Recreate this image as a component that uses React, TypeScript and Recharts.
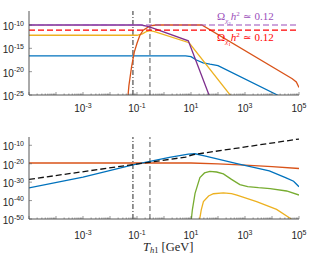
import React from 'react';
import { LineChart, Line, XAxis, YAxis, ReferenceLine } from 'recharts';

// all values are log10 of what the figure shows (x = T_h1 in GeV)
// top panel
const topPurpleX = [-5, -0.85, -0.6, -0.3, 0.9, 1.8];
const topPurpleY = [-10, -10, -10.3, -10.9, -13.4, -27];
const topYellowX = [-5, -1.0, -0.8, -0.65, -0.52, -0.35, 0.93, 2.6];
const topYellowY = [-12.2, -12.2, -11.9, -11.4, -11.2, -11.4, -13.8, -26.1];
const topOrangeX = [-1.36, -1.3, -1.2, -1.1, -1.0, -0.9, -0.77, -0.52, -0.3, 1.4, 4.75, 4.9, 5];
const topOrangeY = [-27, -23, -18.9, -15.8, -13.9, -12.3, -11.1, -10.2, -10, -10, -21.5, -22.2, -23.4];
const topBlueX = [-5, 0.8, 1.0, 1.2, 1.45, 1.7, 2.0, 4.2, 4.6];
const topBlueY = [-16.6, -16.6, -16.8, -17.5, -18.1, -18.4, -18.7, -25, -26.2];
const relicPurple = -10;
const relicRed = -11.1;

// bottom panel
const botOrangeX = [-5, 1, 2, 3, 4, 5];
const botOrangeY = [-19.6, -19.6, -20.1, -20.8, -21.6, -22.6];
const botBlueX = [-5, -3, -1.15, 0.2, 0.9, 1.15, 1.5, 2.7, 3.9, 4.5, 4.8, 5];
const botBlueY = [-33.1, -27.3, -20.6, -16.6, -14.8, -14.6, -15.8, -19.9, -23.9, -27.5, -29.5, -32.5];
const botDashX = [-5, 0.8, 1.1, 5];
const botDashY = [-28.5, -16.4, -15.0, -6.6];
const botGreenX = [1.0, 1.05, 1.15, 1.33, 1.5, 1.7, 1.95, 2.2, 2.5, 2.81, 3.1, 3.5, 3.93, 4.54, 5];
const botGreenY = [-52, -45, -36.1, -27.5, -25, -24.2, -24.5, -25.5, -28.5, -31.3, -32.4, -33, -33.5, -34.8, -37];
const botYellowX = [1.3, 1.38, 1.46, 1.65, 1.83, 2.2, 2.5, 2.7, 3.43, 4.17, 4.67, 4.75];
const botYellowY = [-52, -45, -40.6, -37.5, -36.3, -35.8, -36.2, -37, -40.6, -44.8, -49.6, -50.5];

// vertical markers
const vDashDot = -1.15;
const vDashed = -0.52;

// axes
const xMajorExp = [-5, -4, -3, -2, -1, 0, 1, 2, 3, 4, 5];
const xLabelExp = [-3, -1, 1, 3, 5];
const topYExp = [-25, -20, -15, -10];
const botYExp = [-50, -40, -30, -20, -10];

const pts = (xs: number[], ys: number[]) => xs.map((x, i) => ({ x: 10 ** x, y: 10 ** ys[i] }));

const xTicks: number[] = [];
xMajorExp.forEach((e) => {
  xTicks.push(10 ** e);
  if (e < 5) for (let m = 2; m <= 9; m++) xTicks.push(m * 10 ** e);
});

const AX = '#555';
const TXT = '#262626';

const isMajor = (v: number) => {
  const l = Math.log10(v);
  return Math.abs(l - Math.round(l)) < 1e-6;
};

const Pow = ({ e }: { e: number }) => (
  <>
    <tspan>10</tspan>
    <tspan dy={-4.5} fontSize={7}>{e}</tspan>
  </>
);

const BottomTick = (props: any) => {
  const { x, y, payload, gap } = props;
  const v = payload.value;
  const major = isMajor(v);
  const e = Math.round(Math.log10(v));
  return (
    <g>
      <line x1={x} y1={y} x2={x} y2={y - (major ? 3 : 1.5)} stroke={AX} strokeWidth={0.6} />
      {major && xLabelExp.includes(e) && (
        <text x={x} y={y + gap} textAnchor="middle" fontSize={10} fill={TXT} fontFamily="Liberation Sans, Arial">
          <Pow e={e} />
        </text>
      )}
    </g>
  );
};

const TopTick = (props: any) => {
  const { x, y, payload } = props;
  const major = isMajor(payload.value);
  return <line x1={x} y1={y} x2={x} y2={y + (major ? 3 : 1.5)} stroke={AX} strokeWidth={0.6} />;
};

const LeftTick = (props: any) => {
  const { x, y, payload } = props;
  const e = Math.round(Math.log10(payload.value));
  return (
    <g>
      <line x1={x} y1={y} x2={x + 3} y2={y} stroke={AX} strokeWidth={0.6} />
      <text x={x - 5} y={y + 5} textAnchor="end" fontSize={10} fill={TXT} fontFamily="Liberation Sans, Arial">
        <Pow e={e} />
      </text>
    </g>
  );
};

const RightTick = (props: any) => {
  const { x, y } = props;
  return <line x1={x} y1={y} x2={x - 3} y2={y} stroke={AX} strokeWidth={0.6} />;
};

const Frame = ({ yExp, yDomain, gap, xh }: { yExp: number[]; yDomain: [number, number]; gap: number; xh: number }) => {
  const yTicks = yExp.map((e) => 10 ** e);
  return [
    <XAxis key="xb" dataKey="x" type="number" scale="log" domain={[1e-5, 1e5]} allowDataOverflow ticks={xTicks} interval={0}
      tickSize={0} tickMargin={0} tickLine={false} axisLine={{ stroke: AX }} height={xh}
      tick={(p: any) => <BottomTick {...p} gap={gap} />} />,
    <XAxis key="xt" xAxisId="t" orientation="top" dataKey="x" type="number" scale="log" domain={[1e-5, 1e5]} allowDataOverflow
      ticks={xTicks} interval={0} tickSize={0} tickMargin={0} tickLine={false} axisLine={{ stroke: AX }} height={0}
      tick={(p: any) => <TopTick {...p} />} />,
    <YAxis key="yl" dataKey="y" type="number" scale="log" domain={yDomain} allowDataOverflow ticks={yTicks} interval={0}
      tickSize={0} tickMargin={0} tickLine={false} axisLine={{ stroke: AX }} width={29}
      tick={(p: any) => <LeftTick {...p} />} />,
    <YAxis key="yr" yAxisId="r" orientation="right" dataKey="y" type="number" scale="log" domain={yDomain} allowDataOverflow
      ticks={yTicks} interval={0} tickSize={0} tickMargin={0} tickLine={false} axisLine={{ stroke: AX }} width={0}
      tick={(p: any) => <RightTick {...p} />} />,
  ];
};

const markers = [
  <ReferenceLine key="v1" x={10 ** vDashDot} stroke="#111" strokeWidth={0.9} strokeDasharray="5 2 1 2" />,
  <ReferenceLine key="v2" x={10 ** vDashed} stroke="#444" strokeWidth={0.9} strokeDasharray="5 3" />,
];

const line = (key: string, xs: number[], ys: number[], color: string, dash?: string) => (
  <Line key={key} data={pts(xs, ys)} dataKey="y" type="linear" stroke={color} strokeWidth={1.3}
    strokeDasharray={dash} dot={false} isAnimationActive={false} />
);

const sub = { fontSize: 7, position: 'relative' as const, top: 3 };
const subsub = { fontSize: 5, position: 'relative' as const, top: 2 };
const sup = { fontSize: 7, position: 'relative' as const, top: -4 };

const Relic = ({ idx, color, top }: { idx: string; color: string; top: number }) => (
  <div style={{ position: 'absolute', left: 217, top, lineHeight: '12px', fontFamily: 'Liberation Serif, DejaVu Serif, serif', fontSize: 11, color, whiteSpace: 'nowrap' }}>
    Ω<span style={sub}><i>χ</i><span style={subsub}>{idx}</span></span><i>h</i><span style={sup}>2</span>
    <span style={{ fontFamily: 'DejaVu Serif', fontSize: 10 }}> ≃ </span>0.12
  </div>
);

export default function App() {
  return (
    <div style={{ position: 'absolute', left: 0, top: 0, width: 309, height: 255, background: '#fff' }}>
      <div style={{ position: 'absolute', left: 0, top: 0 }}>
        <LineChart width={309} height={120} margin={{ top: 11, right: 10, bottom: 0, left: 0 }}>
          {Frame({ yExp: topYExp, yDomain: [1e-25, 1e-7], gap: 17, xh: 25 })}
          {markers}
          {line('tb', topBlueX, topBlueY, '#0072BD')}
          {line('ty', topYellowX, topYellowY, '#EDB120')}
          {line('to', topOrangeX, topOrangeY, '#D95319')}
          {line('tp', topPurpleX, topPurpleY, '#7E2F8E')}
          <ReferenceLine y={10 ** relicPurple} stroke="#9A4DBA" strokeWidth={1.2} strokeDasharray="6 3" />
          <ReferenceLine y={10 ** relicRed} stroke="#FF0000" strokeWidth={1.2} strokeDasharray="6 3" />
        </LineChart>
      </div>
      <Relic idx="2" color="#9A4DBA" top={10} />
      <Relic idx="1" color="#FF0000" top={31} />
      <div style={{ position: 'absolute', left: 143, top: 242, lineHeight: '11px', fontFamily: 'Liberation Serif, serif', fontSize: 12.5, color: TXT, whiteSpace: 'nowrap' }}>
        <i>T</i><span style={{ fontSize: 8.5, position: 'relative', top: 2 }}><i>h</i>1</span> [GeV]
      </div>
      <div style={{ position: 'absolute', left: 0, top: 120 }}>
        <LineChart width={309} height={135} margin={{ top: 17, right: 10, bottom: 0, left: 0 }}>
          {Frame({ yExp: botYExp, yDomain: [1e-50, 10 ** -5.5], gap: 20, xh: 36 })}
          {markers}
          {line('bo', botOrangeX, botOrangeY, '#D95319')}
          {line('bb', botBlueX, botBlueY, '#0072BD')}
          {line('bg', botGreenX, botGreenY, '#77AC30')}
          {line('by', botYellowX, botYellowY, '#EDB120')}
          {line('bd', botDashX, botDashY, '#111', '6 3')}
        </LineChart>
      </div>
    </div>
  );
}
